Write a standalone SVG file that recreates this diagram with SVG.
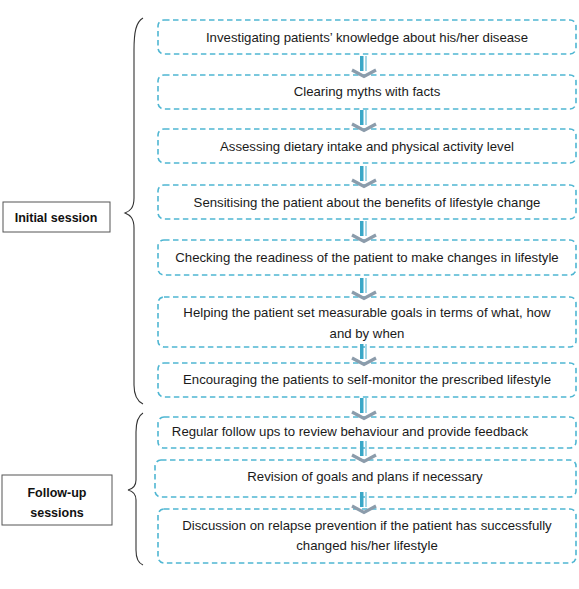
<svg xmlns="http://www.w3.org/2000/svg" width="579" height="589" viewBox="0 0 579 589">
<style>
.box{fill:#fff;stroke:#4fb6d2;stroke-width:1.6;stroke-dasharray:5.5 3.5}
.t{font-family:"Liberation Sans",Arial,sans-serif;font-size:13.2px;fill:#1a1a1a;text-anchor:middle}
.lbl{fill:#fff;stroke:#555;stroke-width:1}
.lt{font-family:"Liberation Sans",Arial,sans-serif;font-size:12.5px;font-weight:bold;fill:#111;text-anchor:middle}
.brace{fill:none;stroke:#333;stroke-width:1.1}
</style>
<defs>
<g id="arr">
<rect x="-4" y="-22" width="3.5" height="15" fill="#3aa7c7"/>
<rect x="1" y="-22" width="2" height="15" fill="#a3d6e6"/>
<polyline points="-12,-8 0,-1.5 12,-8" fill="none" stroke="#8c9cab" stroke-width="3.2"/>
</g>
</defs>
<rect width="579" height="589" fill="#fff"/>
<g id="braces">
<path class="brace" d="M143,18 C136,22 134,32 134,50 L134,198 C134,208 130,211 125,213 C130,215 134,218 134,228 L134,385 C134,396 137,401 143,404"/>
<path class="brace" d="M143,413 C138,416 136,422 136,432 L136,480 C136,486 132,489 128,490 C132,491 136,494 136,500 L136,550 C136,558 138,563 143,565"/>
</g>
<g id="label-initial">
<rect class="lbl" x="3" y="202" width="107" height="30"/>
<text class="lt" x="56" y="221.5">Initial session</text>
</g>
<g id="label-followup">
<rect class="lbl" x="2" y="475" width="110" height="50"/>
<text class="lt" x="57" y="497">Follow-up</text>
<text class="lt" x="57" y="517">sessions</text>
</g>
<g id="n1"><rect class="box" x="158" y="20" width="418" height="34" rx="6"/><text class="t" x="367" y="41.5">Investigating patients’ knowledge about his/her disease</text></g>
<g id="n2"><rect class="box" x="158" y="75" width="418" height="34" rx="6"/><text class="t" x="367" y="95.5">Clearing myths with facts</text></g>
<g id="n3"><rect class="box" x="158" y="129" width="418" height="34" rx="6"/><text class="t" x="367" y="150.5">Assessing dietary intake and physical activity level</text></g>
<g id="n4"><rect class="box" x="158" y="185" width="418" height="34" rx="6"/><text class="t" x="367" y="206.5">Sensitising the patient about the benefits of lifestyle change</text></g>
<g id="n5"><rect class="box" x="158" y="240" width="418" height="35" rx="6"/><text class="t" x="367" y="261.5">Checking the readiness of the patient to make changes in lifestyle</text></g>
<g id="n6"><rect class="box" x="158" y="297" width="418" height="50" rx="6"/><text class="t" x="367" y="316.5">Helping the patient set measurable goals in terms of what, how</text><text class="t" x="367" y="337.5">and by when</text></g>
<g id="n7"><rect class="box" x="158" y="363" width="418" height="34" rx="6"/><text class="t" x="367" y="383.5">Encouraging the patients to self-monitor the prescribed lifestyle</text></g>
<g id="n8"><rect class="box" x="158" y="417" width="418" height="31" rx="6"/><text class="t" x="350" y="435.5">Regular follow ups to review behaviour and provide feedback</text></g>
<g id="n9"><rect class="box" x="155" y="460" width="421" height="37" rx="6"/><text class="t" x="365" y="480.5">Revision of goals and plans if necessary</text></g>
<g id="n10"><rect class="box" x="158" y="509" width="418" height="54" rx="6"/><text class="t" x="367" y="529.5">Discussion on relapse prevention if the patient has successfully</text><text class="t" x="367" y="549.5">changed his/her lifestyle</text></g>
<g id="connectors">
<use href="#arr" x="364" y="78"/>
<use href="#arr" x="364" y="132"/>
<use href="#arr" x="364" y="188"/>
<use href="#arr" x="364" y="243"/>
<use href="#arr" x="364" y="300"/>
<use href="#arr" x="364" y="366"/>
<use href="#arr" x="364" y="420"/>
<use href="#arr" x="364" y="463"/>
<use href="#arr" x="364" y="514"/>
</g>
</svg>
